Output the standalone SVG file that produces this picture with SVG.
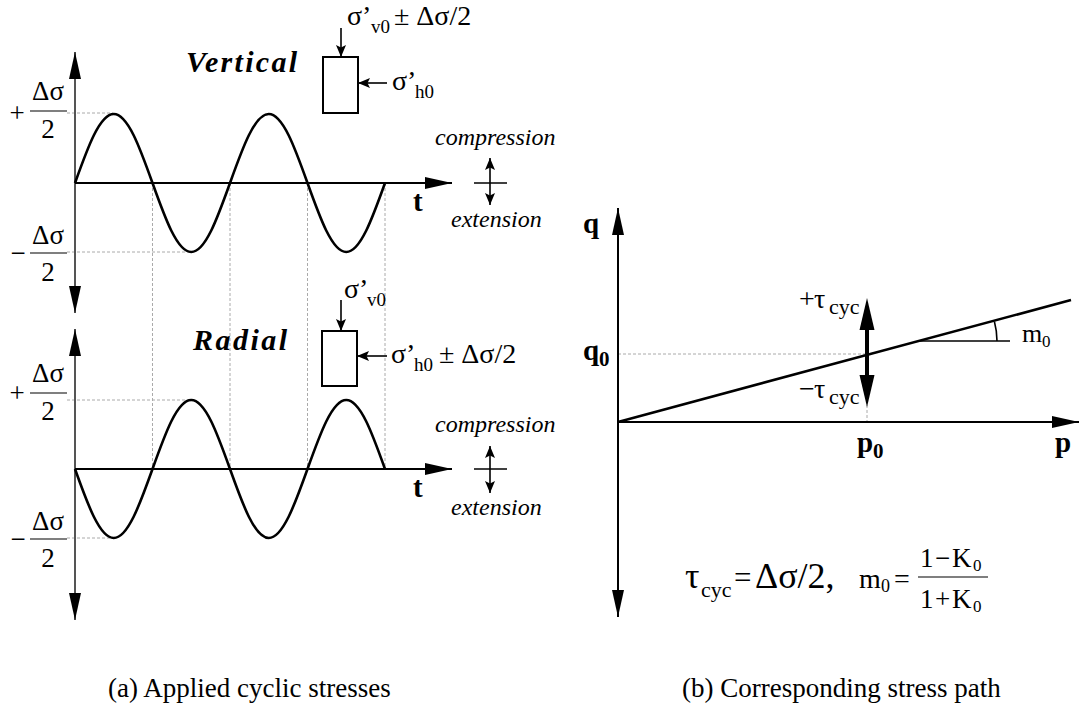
<svg xmlns="http://www.w3.org/2000/svg" width="1080" height="709" viewBox="0 0 1080 709">
<style>
text{font-family:"Liberation Serif","Times New Roman",serif;fill:#000}
.lbl{font-size:27px}
.sub{font-size:19px}
.it{font-style:italic;font-size:24px}
.bi{font-style:italic;font-weight:bold;font-size:30px}
.b{font-weight:bold;font-size:29px}
.bs{font-weight:bold;font-size:21px}
.dash{stroke:#aaa;stroke-width:1;stroke-dasharray:3 2;fill:none}
.axv{stroke:#555;stroke-width:2;fill:none}
.axh{stroke:#000;stroke-width:2;fill:none}
.wave{stroke:#000;stroke-width:2.6;fill:none;stroke-linejoin:round}
.thin{stroke:#000;stroke-width:1.6;fill:none}
.box{stroke:#000;stroke-width:2;fill:#fff}
</style>
<defs>
<marker id="ax" markerUnits="userSpaceOnUse" markerWidth="28" markerHeight="14" refX="27" refY="6" orient="auto-start-reverse" viewBox="0 0 28 12">
<path d="M0,0 L27,6 L0,12 z" fill="#000"/>
</marker>
<marker id="sm" markerUnits="userSpaceOnUse" markerWidth="13" markerHeight="11" refX="12" refY="5" orient="auto-start-reverse" viewBox="0 0 13 10">
<path d="M0,0 L12,5 L0,10 L2.5,5 z" fill="#000"/>
</marker>
<marker id="tk" markerUnits="userSpaceOnUse" markerWidth="34" markerHeight="16" refX="0" refY="7.5" orient="auto-start-reverse" viewBox="0 0 34 15">
<path d="M0,0 L32,7.5 L0,15 z" fill="#000"/>
</marker>
</defs>

<g id="connectors">
<path class="dash" d="M67,113 H113 M67,252 H190 M67,400 H190 M67,538 H113 M152.5,183 V469 M230,183 V469 M307.5,183 V469 M385,183 V469"/>
<path class="dash" d="M618,354 H867 V422"/>
<line class="axv" x1="75" y1="313" x2="75" y2="52" marker-start="url(#ax)" marker-end="url(#ax)"/>
<line class="axh" x1="75" y1="183" x2="452" y2="183" marker-end="url(#ax)"/>
<line class="axv" x1="75" y1="620" x2="75" y2="329" marker-start="url(#ax)" marker-end="url(#ax)"/>
<line class="axh" x1="75" y1="469" x2="452" y2="469" marker-end="url(#ax)"/>
<path class="wave" d="M75,183 c12.64,-35.35 24.73,-69 38.75,-69 c14.02,0 26.11,33.65 38.75,69 c12.64,35.35 24.73,69 38.75,69 c14.02,0 26.11,-33.650 38.75,-69 c12.64,-35.35 24.73,-69 38.75,-69 c14.02,0 26.11,33.65 38.75,69 c12.64,35.35 24.73,69 38.75,69 c14.02,0 26.11,-33.65 38.75,-69"/>
<path class="wave" d="M75,469 c12.64,35.35 24.73,69 38.75,69 c14.02,0 26.11,-33.65 38.75,-69 c12.64,-35.35 24.73,-69 38.75,-69 c14.02,0 26.11,33.65 38.75,69 c12.64,35.35 24.73,69 38.75,69 c14.02,0 26.11,-33.65 38.75,-69 c12.64,-35.35 24.73,-69 38.75,-69 c14.02,0 26.11,33.65 38.75,69"/>
<line class="thin" x1="341" y1="28" x2="341" y2="57" marker-end="url(#sm)"/>
<line class="thin" x1="387" y1="83" x2="358" y2="83" marker-end="url(#sm)"/>
<line class="thin" x1="341" y1="300" x2="341" y2="331" marker-end="url(#sm)"/>
<line class="thin" x1="387" y1="356" x2="357" y2="356" marker-end="url(#sm)"/>
<line class="thin" x1="490" y1="205" x2="490" y2="158" marker-start="url(#sm)" marker-end="url(#sm)"/>
<line class="thin" x1="474" y1="183" x2="507" y2="183"/>
<line class="thin" x1="490" y1="493" x2="490" y2="446" marker-start="url(#sm)" marker-end="url(#sm)"/>
<line class="thin" x1="474" y1="469" x2="507" y2="469"/>
<line class="axh" x1="618" y1="617" x2="618" y2="208" marker-start="url(#ax)" marker-end="url(#ax)"/>
<line class="axh" x1="618" y1="422" x2="1079" y2="422" marker-end="url(#ax)"/>
<line x1="618" y1="422" x2="1071" y2="300" stroke="#000" stroke-width="2.6"/>
<path class="thin" d="M920,341 H1010"/>
<path class="thin" d="M994.4,321.5 A77,77 0 0 1 997,341"/>
<line x1="867" y1="375" x2="867" y2="330" stroke="#000" stroke-width="4" marker-start="url(#tk)" marker-end="url(#tk)"/>
</g>

<g id="boxes">
<rect class="box" x="323" y="57" width="35" height="56"/>
<rect class="box" x="322" y="331" width="35" height="55"/>
</g>

<g id="labels-a">
<text class="lbl" x="17" y="122" text-anchor="middle">+</text>
<text class="lbl" x="48" y="100" text-anchor="middle">Δσ</text>
<line x1="30" y1="111" x2="67" y2="111" stroke="#000" stroke-width="1.2"/>
<text class="lbl" x="48" y="138" text-anchor="middle">2</text>
<text class="lbl" x="18" y="262" text-anchor="middle">−</text>
<text class="lbl" x="48" y="244" text-anchor="middle">Δσ</text>
<line x1="30" y1="253" x2="67" y2="253" stroke="#000" stroke-width="1.2"/>
<text class="lbl" x="48" y="281" text-anchor="middle">2</text>

<text class="lbl" x="17" y="402" text-anchor="middle">+</text>
<text class="lbl" x="48" y="382" text-anchor="middle">Δσ</text>
<line x1="30" y1="393" x2="67" y2="393" stroke="#000" stroke-width="1.2"/>
<text class="lbl" x="48" y="420" text-anchor="middle">2</text>
<text class="lbl" x="18" y="548" text-anchor="middle">−</text>
<text class="lbl" x="48" y="530" text-anchor="middle">Δσ</text>
<line x1="30" y1="539" x2="67" y2="539" stroke="#000" stroke-width="1.2"/>
<text class="lbl" x="48" y="567" text-anchor="middle">2</text>

<text class="bi" x="186" y="72" textLength="111" lengthAdjust="spacing">Vertical</text>
<text class="bi" x="193" y="350" textLength="94" lengthAdjust="spacing">Radial</text>

<text class="lbl" x="347" y="25" style="font-size:28px">σ’<tspan class="sub" x="371" y="33">v0</tspan><tspan x="394" y="25">± Δσ/2</tspan></text>
<text class="lbl" x="392" y="90" style="font-size:28px">σ’<tspan class="sub" x="415" y="98">h0</tspan></text>
<text class="lbl" x="344" y="298" style="font-size:28px">σ’<tspan class="sub" x="367" y="306">v0</tspan></text>
<text class="lbl" x="391" y="363" style="font-size:28px">σ’<tspan class="sub" x="414" y="371">h0</tspan><tspan x="439" y="363">± Δσ/2</tspan></text>

<text class="it" x="435" y="145">compression</text>
<text class="it" x="451" y="227">extension</text>
<text class="it" x="435" y="432">compression</text>
<text class="it" x="451" y="515">extension</text>
<text class="b" x="413" y="211">t</text>
<text class="b" x="413" y="497">t</text>

<text class="lbl" x="108" y="697">(a) Applied cyclic stresses</text>
</g>

<g id="labels-b">
<text class="b" x="583" y="233">q</text>
<text class="b" x="583" y="360">q<tspan class="bs" x="599" y="366">0</tspan></text>
<text class="b" x="857" y="452">p<tspan class="bs" x="873" y="458">0</tspan></text>
<text class="b" x="1055" y="452">p</text>
<text class="lbl" x="799" y="308" style="font-size:28px">+<tspan x="814">τ</tspan><tspan class="sub" x="829" y="314" style="font-size:22px">cyc</tspan></text>
<text class="lbl" x="799" y="398" style="font-size:28px">−<tspan x="814">τ</tspan><tspan class="sub" x="829" y="404" style="font-size:22px">cyc</tspan></text>
<text x="1022" y="342" style="font-size:26px">m<tspan style="font-size:17px" x="1042" y="347">0</tspan></text>

<text x="685" y="588" style="font-size:36px">τ<tspan style="font-size:22px" x="701" y="597">cyc</tspan><tspan style="font-size:31px" x="734" y="588">=</tspan><tspan style="font-size:36px" x="755" y="588">Δσ/2,</tspan></text>
<text x="859" y="588" style="font-size:28px">m<tspan style="font-size:18px" x="881" y="592">0</tspan><tspan x="894" y="588">=</tspan></text>
<line x1="918" y1="577" x2="988" y2="577" stroke="#000" stroke-width="1.2"/>
<text x="920" y="567" style="font-size:27px">1<tspan x="935">−</tspan><tspan x="952">K</tspan><tspan style="font-size:17px" x="973" y="571">0</tspan></text>
<text x="920" y="608" style="font-size:27px">1<tspan x="935">+</tspan><tspan x="952">K</tspan><tspan style="font-size:17px" x="973" y="612">0</tspan></text>

<text class="lbl" x="682" y="697">(b) Corresponding stress path</text>
</g>
</svg>
